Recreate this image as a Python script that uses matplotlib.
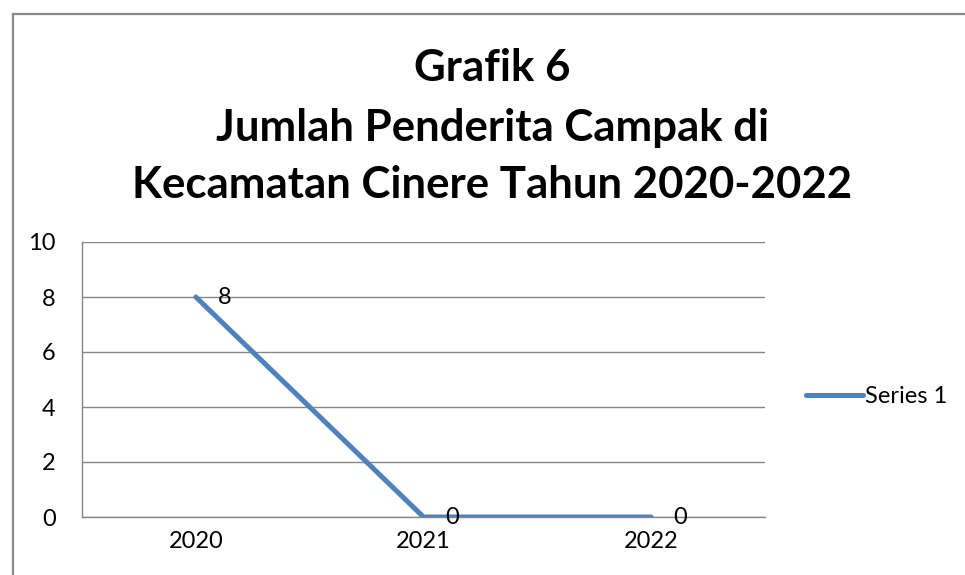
import matplotlib.pyplot as plt
from matplotlib.patches import Rectangle

plt.rcParams['font.family'] = ['Lato', 'DejaVu Sans']

# data
years = ['2020', '2021', '2022']
cases = [8, 0, 0]
series_name = 'Series 1'
title_lines = ['Grafik 6', 'Jumlah Penderita Campak di', 'Kecamatan Cinere Tahun 2020-2022']

fig = plt.figure(figsize=(9.65, 5.75), dpi=100)
ax = fig.add_axes([82 / 965, 1 - 517 / 575, 683 / 965, 275 / 575])

xpos = [i + 0.5 for i in range(len(years))]
ax.plot(xpos, cases, color='#4F81BD', linewidth=3.6, solid_capstyle='round',
        solid_joinstyle='round', label=series_name, zorder=3)

for x, v in zip(xpos, cases):
    ax.annotate(str(v), (x, v), xytext=(16, 0), textcoords='offset points',
                ha='left', va='center', fontsize=17, color='black', zorder=4)

ax.set_xlim(0, 3)
ax.set_ylim(0, 10)
ax.set_yticks(range(0, 11, 2))
ax.set_xticks(xpos)
ax.set_xticklabels(years)
ax.tick_params(length=0, labelsize=17, colors='black')
ax.tick_params(axis='x', pad=10)
ax.tick_params(axis='y', pad=19)
ax.grid(axis='y', color='#868686', linewidth=1)
ax.set_axisbelow(True)
for s in ['top', 'right']:
    ax.spines[s].set_visible(False)
for s in ['left', 'bottom']:
    ax.spines[s].set_color('#868686')
    ax.spines[s].set_linewidth(1)

leg = fig.legend(loc='center left', bbox_to_anchor=(785 / 965, 1 - 397 / 575),
                 frameon=False, fontsize=17, handlelength=2.4, handletextpad=0.1)

# titles
ys = [68, 128, 185]
for t, y in zip(title_lines, ys):
    fig.text(0.5 * (135 + 850) / 965, 1 - y / 575, t, ha='center', va='center',
             fontsize=31.5, fontweight='bold')

# outer border (chart frame, cut off at right and bottom)
fig.patches.append(Rectangle((12.5 / 965, -0.2), 1.2, 1.2 + (575 - 13.5) / 575 - 1,
                             transform=fig.transFigure, fill=False,
                             edgecolor='#888888', linewidth=1.6))

fig.savefig('out.png', dpi=100)
